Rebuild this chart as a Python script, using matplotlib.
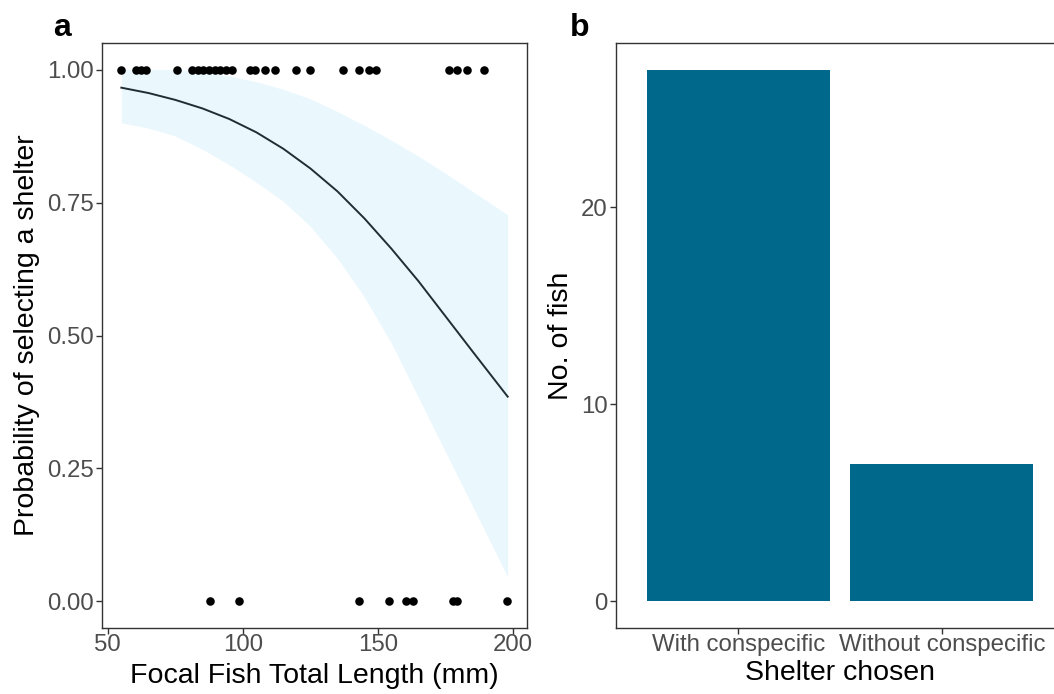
import numpy as np
import matplotlib
matplotlib.use("Agg")
import matplotlib.pyplot as plt

plt.rcParams['font.family'] = ['Liberation Sans', 'DejaVu Sans']

# panel a: shelter choice (1 = selected a shelter, 0 = did not)
len_yes = [55.0, 60.3, 62.1, 64.0, 75.6, 81.1, 83.2, 85.3, 87.4, 89.5, 91.6, 93.8, 96.0,
           102.5, 104.3, 108.2, 111.7, 119.7, 124.9, 137.2, 142.8, 146.5, 149.2,
           176.3, 179.4, 183.1, 189.3]
len_no = [88.0, 98.5, 143.1, 153.9, 160.3, 162.8, 177.6, 179.4, 197.9]

# fitted curve and its confidence band
fit_x = [55, 65, 75, 85, 95, 105, 115, 125, 135, 145, 155, 165, 175, 185, 198]
fit_p = [0.966, 0.956, 0.943, 0.927, 0.907, 0.882, 0.851, 0.814, 0.771, 0.720,
         0.663, 0.602, 0.536, 0.470, 0.385]
ci_hi = [1.0, 1.0, 1.0, 0.995, 0.988, 0.977, 0.963, 0.945, 0.921, 0.895,
         0.867, 0.837, 0.805, 0.771, 0.727]
ci_lo = [0.900, 0.890, 0.875, 0.850, 0.821, 0.788, 0.752, 0.705, 0.645, 0.572,
         0.485, 0.383, 0.281, 0.179, 0.046]

# panel b
shelters = ['With conspecific', 'Without conspecific']
n_fish = [27, 7]

W, H = 1054, 694
fig = plt.figure(figsize=(W / 100, H / 100), dpi=100)

grey = '#4d4d4d'
tick_fs = 17.3
lab_fs = 20.5

def px_axes(l, r, t, b):
    return fig.add_axes([l / W, 1 - b / H, (r - l) / W, (b - t) / H])

# ---- panel a
ax1 = px_axes(102, 527, 43, 628)
ax1.fill_between(fit_x, ci_lo, ci_hi, color='#eaf8fe', lw=0)
ax1.plot(fit_x, fit_p, color='#222c33', lw=1.4)
ax1.scatter(len_yes, np.ones(len(len_yes)), s=38, color='black', zorder=3, lw=0)
ax1.scatter(len_no, np.zeros(len(len_no)), s=38, color='black', zorder=3, lw=0)
ax1.set_xlim(47.85, 205.15)
ax1.set_ylim(-0.05, 1.05)
ax1.set_xticks([50, 100, 150, 200])
ax1.set_yticks([0, 0.25, 0.5, 0.75, 1.0])
ax1.set_yticklabels(['0.00', '0.25', '0.50', '0.75', '1.00'])
ax1.set_xlabel('Focal Fish Total Length (mm)', fontsize=lab_fs, labelpad=5)
ax1.set_ylabel('Probability of selecting a shelter', fontsize=lab_fs, labelpad=5)

# ---- panel b
ax2 = px_axes(616, 1064, 43, 628)
pos = np.arange(len(shelters)) + 1
ax2.bar(pos, n_fish, width=0.9, color='#00688b')
ax2.set_xlim(0.4, 2.6)
ax2.set_ylim(-1.35, 28.35)
ax2.set_xticks(pos)
ax2.set_xticklabels(shelters)
ax2.set_yticks([0, 10, 20])
ax2.set_xlabel('Shelter chosen', fontsize=lab_fs, labelpad=3)
ax2.set_ylabel('No. of fish', fontsize=lab_fs, labelpad=5)
ax2.spines['right'].set_visible(False)

for ax in (ax1, ax2):
    for sp in ax.spines.values():
        sp.set_color('#333333')
        sp.set_linewidth(1.0)
    ax.tick_params(labelsize=tick_fs, labelcolor=grey, color='#333333',
                   length=4, width=1, pad=2)
    ax.tick_params(axis='x', pad=0.5)

fig.text(62 / W, 1 - 28 / H, 'a', fontsize=23, fontweight='bold', ha='center', va='center')
fig.text(580 / W, 1 - 28 / H, 'b', fontsize=23, fontweight='bold', ha='center', va='center')

fig.savefig('out.png', dpi=100)
